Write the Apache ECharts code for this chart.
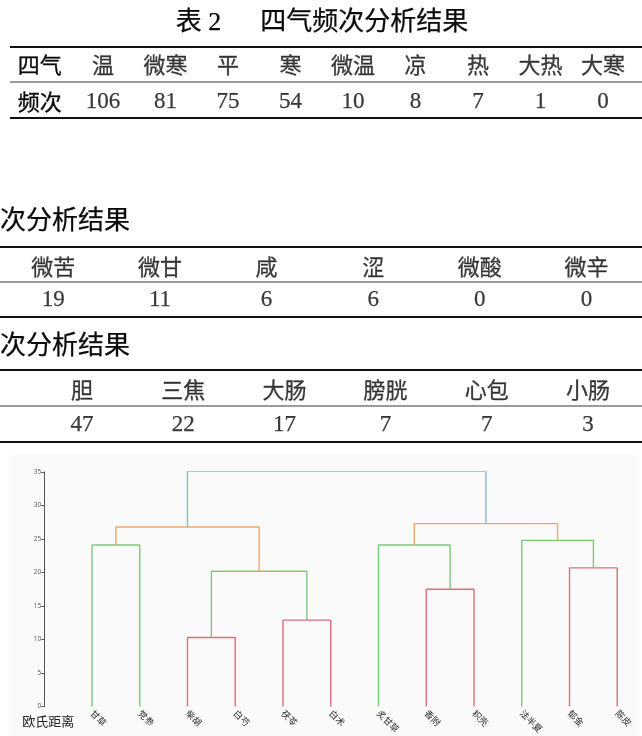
<!DOCTYPE html>
<html>
<head>
<meta charset="utf-8">
<script src="https://cdn.jsdelivr.net/npm/echarts@6/dist/echarts.min.js"></script>
<style>
html,body{margin:0;padding:0;background:#fff;}
#main{width:642px;height:736px;}
</style>
</head>
<body>
<div id="main"></div>
<script>
// ---- data ----
const qiRowLabels = ['四气', '频次'];
const qiNames = ['温', '微寒', '平', '寒', '微温', '凉', '热', '大热', '大寒'];
const qiCounts = [106, 81, 75, 54, 10, 8, 7, 1, 0];

const flavorNames = ['微苦', '微甘', '咸', '涩', '微酸', '微辛'];
const flavorCounts = [19, 11, 6, 6, 0, 0];

const meridianNames = ['胆', '三焦', '大肠', '膀胱', '心包', '小肠'];
const meridianCounts = [47, 22, 17, 7, 7, 3];

const herbNames = ['甘草', '党参', '柴胡', '白芍', '茯苓', '白术', '炙甘草', '香附', '枳壳', '法半夏', '郁金', '陈皮'];
// linkage: cluster (12 + k) joins linkA[k] and linkB[k] at linkHeight[k]
const linkA = [2, 4, 7, 12, 10, 0, 6, 9, 17, 18, 20];
const linkB = [3, 5, 8, 13, 11, 1, 14, 16, 15, 19, 21];
const linkHeight = [10.3, 12.9, 17.5, 20.2, 20.7, 24.1, 24.1, 24.8, 26.8, 27.3, 35.1];

// ---- styles ----
const depthColors = ['#8fb3d9', '#f4a66f', '#7fc77f', '#e46a7c'];
const CJK = "'Noto Sans CJK SC', sans-serif";
const SERIF = "'Liberation Serif', 'Noto Sans CJK SC', serif";
const INK = '#0a0a0a';

const chart = echarts.init(document.getElementById('main'), null, {renderer: 'canvas'});

// ---- dendrogram geometry in data units ----
const nLeaf = herbNames.length;
const xPos = [], hPos = [];
for (let i = 0; i < nLeaf; i++) { xPos[i] = i; hPos[i] = 0; }
for (let k = 0; k < linkA.length; k++) {
  xPos[nLeaf + k] = (xPos[linkA[k]] + xPos[linkB[k]]) / 2;
  hPos[nLeaf + k] = linkHeight[k];
}
const depth = {};
const root = nLeaf + linkA.length - 1;
(function walk(node, d) {
  depth[node] = d;
  if (node >= nLeaf) {
    walk(linkA[node - nLeaf], d + 1);
    walk(linkB[node - nLeaf], d + 1);
  }
})(root, 0);

const linkSeries = linkA.map((a, k) => {
  const b = linkB[k];
  const node = nLeaf + k;
  return {
    type: 'line', xAxisIndex: 3, yAxisIndex: 3,
    symbol: 'none', silent: true, animation: false,
    lineStyle: {color: depthColors[Math.min(depth[node], 3)], width: 1.4},
    data: [[xPos[a], hPos[a]], [xPos[a], linkHeight[k]], [xPos[b], linkHeight[k]], [xPos[b], hPos[b]]]
  };
});

function tableSeries(idx, names, counts) {
  const s = [];
  s.push({
    type: 'scatter', xAxisIndex: idx, yAxisIndex: idx, symbolSize: 0, silent: true, animation: false,
    data: names.map((n, i) => [i, 0]),
    label: {show: true, position: 'inside', formatter: p => names[p.dataIndex],
      fontFamily: CJK, fontSize: 22, color: INK, textBorderColor: INK, textBorderWidth: 0.3}
  });
  s.push({
    type: 'scatter', xAxisIndex: idx, yAxisIndex: idx, symbolSize: 0, silent: true, animation: false,
    data: counts.map((c, i) => [i, 1]),
    label: {show: true, position: 'inside', formatter: p => String(counts[p.dataIndex]),
      fontFamily: SERIF, fontSize: 23, color: INK, textBorderColor: INK, textBorderWidth: 0.25}
  });
  return s;
}

function catX(idx, names) {
  return {type: 'category', gridIndex: idx, data: names, boundaryGap: true, show: false};
}
function catY(idx, showLabels) {
  return {type: 'category', gridIndex: idx, data: qiRowLabels, inverse: true,
    axisLine: {show: false}, axisTick: {show: false}, splitLine: {show: false},
    axisLabel: {show: showLabels, margin: 10, fontFamily: CJK, fontSize: 22, color: INK,
      textBorderColor: INK, textBorderWidth: 0.3}};
}

function rule(y, x1, thick) {
  return {type: 'line', silent: true, z: 5,
    shape: {x1: x1, y1: y, x2: 642, y2: y},
    style: {stroke: thick ? '#111' : '#7a7a7a', lineWidth: thick ? 2.2 : 1.4}};
}
function heading(text, x, y, align) {
  return {type: 'text', silent: true, z: 5,
    style: {text: text, x: x, y: y, font: "26px 'Liberation Serif', 'Noto Sans CJK SC'",
      fill: INK, stroke: INK, lineWidth: 0.25,
      align: align, textAlign: align, verticalAlign: 'middle', textVerticalAlign: 'middle'}};
}

const option = {
  backgroundColor: '#ffffff',
  animation: false,
  grid: [
    {left: 71.75, top: 46.5, width: 562.5, height: 74},
    {left: -17.8, top: 250.5, width: 657.6, height: 66},
    {left: 31.4, top: 372.5, width: 607.2, height: 70},
    {left: 44.25, top: 472, width: 596.9, height: 236}
  ],
  xAxis: [
    catX(0, qiNames), catX(1, flavorNames), catX(2, meridianNames),
    {type: 'value', gridIndex: 3, min: -1, max: 11.5, interval: 1,
      axisLine: {show: false, onZero: false}, axisTick: {show: false}, splitLine: {show: false},
      axisLabel: {show: true, rotate: -45, margin: 5, fontSize: 9, color: '#2a2a2a', fontFamily: CJK,
        showMaxLabel: false, showMinLabel: false,
        formatter: v => (Number.isInteger(v) && herbNames[v]) ? herbNames[v] : ''}}
  ],
  yAxis: [
    catY(0, true), catY(1, false), catY(2, false),
    {type: 'value', gridIndex: 3, min: 0, max: 35, interval: 5,
      name: '欧氏距离', nameLocation: 'start', nameGap: 14,
      nameTextStyle: {fontFamily: CJK, fontSize: 13, color: '#222', align: 'center', verticalAlign: 'middle',
        padding: [0, 0, 0, 8]},
      axisLine: {show: true, onZero: false, lineStyle: {color: '#555', width: 1}},
      axisTick: {show: true, length: 3, lineStyle: {color: '#555'}},
      splitLine: {show: false},
      axisLabel: {fontSize: 6.5, color: '#555', margin: 3, fontFamily: "'Open Sans', sans-serif"}}
  ],
  graphic: [
    {type: 'rect', silent: true, z: -10, shape: {x: 10, y: 455, width: 628, height: 281}, style: {fill: '#fafafa'}},
    heading('表 2\u3000  四气频次分析结果', 322, 23, 'center'),
    rule(47, 10, true), rule(82, 10, false), rule(118, 10, true),
    heading('次分析结果', 0, 222, 'left'),
    rule(247, 0, true), rule(282, 0, false), rule(317, 0, true),
    heading('次分析结果', 0, 347, 'left'),
    rule(370, 0, true), rule(406, 0, false), rule(442, 0, true)
  ],
  series: [].concat(
    tableSeries(0, qiNames, qiCounts),
    tableSeries(1, flavorNames, flavorCounts),
    tableSeries(2, meridianNames, meridianCounts),
    linkSeries
  )
};
chart.setOption(option);
</script>
</body>
</html>
